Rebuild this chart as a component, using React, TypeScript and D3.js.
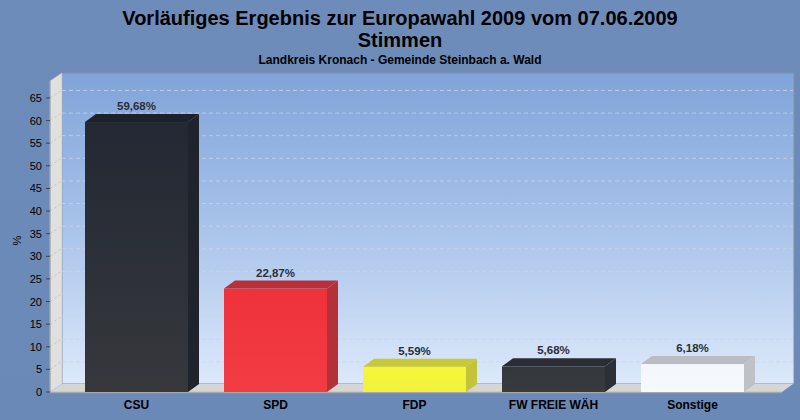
import React from 'react'
import * as d3 from 'd3'

const categories = ['CSU', 'SPD', 'FDP', 'FW FREIE WÄH', 'Sonstige']
const shares = [59.68, 22.87, 5.59, 5.68, 6.18]
const yTicks = [0, 5, 10, 15, 20, 25, 30, 35, 40, 45, 50, 55, 60, 65]

// front / top / side colours per party
const palette = [
  { front: ['#232833', '#36383c'], top: '#1c212a', side: '#1f232b' },
  { front: ['#ef313a', '#f23c44'], top: '#b8313a', side: '#b3323a' },
  { front: ['#f5f538', '#f2f23e'], top: '#c9c936', side: '#c4c43a' },
  { front: ['#34373d', '#383a3e'], top: '#2a2d33', side: '#2c2f35' },
  { front: ['#f3f6fb', '#f6f9fd'], top: '#babdc3', side: '#bec1c6' },
]

const W = 800
const H = 420
const DX = 11
const DY = 8
const FONT = '"Liberation Sans", Arial, sans-serif'

const fmt = d3.formatLocale({ decimal: ',', thousands: '.', grouping: [3], currency: ['', '€'] }).format('.2f')

const App: React.FC = () => {
  const x = d3.scaleBand<string>()
    .domain(categories)
    .range([67, 762])
    .paddingInner(0.259)
    .paddingOuter(0.1295)

  const y = d3.scaleLinear().domain([0, 68.75]).range([392, 81])

  const x0 = 50
  const x1 = 782
  const y0 = y(0)
  const yTop = y(68.75)

  return (
    <svg width={W} height={H} style={{ position: 'absolute', left: 0, top: 0, fontFamily: FONT }}>
      <defs>
        <linearGradient id="bg" x1="0" y1="0" x2="0" y2="1">
          <stop offset="0" stopColor="#6e8cb9" />
          <stop offset="1" stopColor="#6a89b7" />
        </linearGradient>
        <linearGradient id="wall" x1="0" y1="0" x2="0" y2="1">
          <stop offset="0" stopColor="#80a4d8" />
          <stop offset="0.5" stopColor="#a9c3ea" />
          <stop offset="1" stopColor="#dce9fb" />
        </linearGradient>
        {palette.map((p, i) => (
          <linearGradient key={i} id={`front${i}`} x1="0" y1="0" x2="0" y2="1">
            <stop offset="0" stopColor={p.front[0]} />
            <stop offset="1" stopColor={p.front[1]} />
          </linearGradient>
        ))}
      </defs>

      <rect width={W} height={H} fill="url(#bg)" />

      {/* titles */}
      <text x={400} y={25} textAnchor="middle" fontSize={20} fontWeight="bold" fill="#000">
        Vorläufiges Ergebnis zur Europawahl 2009 vom 07.06.2009
      </text>
      <text x={400} y={47} textAnchor="middle" fontSize={20} fontWeight="bold" fill="#000">
        Stimmen
      </text>
      <text x={400} y={64} textAnchor="middle" fontSize={12} fontWeight="bold" fill="#000">
        Landkreis Kronach - Gemeinde Steinbach a. Wald
      </text>

      {/* back wall */}
      <rect x={x0 + DX + 1} y={yTop - DY} width={x1 - x0} height={y0 - yTop}
        fill="url(#wall)" stroke="#7f8fa6" strokeWidth={1} />
      {/* left wall */}
      <polygon
        points={`${x0},${yTop} ${x0 + DX + 1},${yTop - DY} ${x0 + DX + 1},${y0 - DY} ${x0},${y0}`}
        fill="#e0e0e0" stroke="#c4c4c4" strokeWidth={0.6} />
      {/* floor */}
      <polygon
        points={`${x0},${y0} ${x0 + DX + 1},${y0 - DY} ${x1 + DX},${y0 - DY} ${x1},${y0}`}
        fill="#d6d6d6" />
      <line x1={x0} x2={x1} y1={y0 + 0.5} y2={y0 + 0.5} stroke="#a8a8a8" strokeWidth={1.5} />

      {/* grid */}
      {yTicks.filter(t => t > 0).map(t => (
        <g key={t}>
          <line x1={x0 + DX + 1} x2={x1 + DX} y1={y(t) - DY + 0.5} y2={y(t) - DY + 0.5}
            stroke="#cbd6e8" strokeWidth={1} strokeDasharray="4 3" opacity={0.75} />
          <line x1={x0} x2={x0 + DX + 1} y1={y(t)} y2={y(t) - DY}
            stroke="#c8c8c8" strokeWidth={1} strokeDasharray="3 2" />
        </g>
      ))}

      {/* axis */}
      <line x1={x0} x2={x0} y1={yTop} y2={y0} stroke="#9a9a9a" strokeWidth={1} />
      {yTicks.map(t => (
        <g key={t}>
          <line x1={x0 - 4} x2={x0} y1={y(t)} y2={y(t)} stroke="#444" strokeWidth={1} />
          <text x={42} y={y(t) + 4} textAnchor="end" fontSize={11} fill="#000">{t}</text>
        </g>
      ))}
      <text transform={`translate(21,${(yTop + y0) / 2 + 4}) rotate(-90)`} textAnchor="middle"
        fontSize={11} fill="#000">%</text>

      {/* bars */}
      {categories.map((c, i) => {
        const bx = x(c)!
        const bw = x.bandwidth()
        const by = y(shares[i])
        const p = palette[i]
        return (
          <g key={c}>
            <rect x={bx} y={by} width={bw} height={y0 - by} fill={`url(#front${i})`} />
            <polygon
              points={`${bx},${by} ${bx + DX},${by - DY} ${bx + bw + DX},${by - DY} ${bx + bw},${by}`}
              fill={p.top} />
            <polygon
              points={`${bx + bw},${by} ${bx + bw + DX},${by - DY} ${bx + bw + DX},${y0 - DY} ${bx + bw},${y0}`}
              fill={p.side} />
            <text x={bx + bw / 2} y={by - DY - 4} textAnchor="middle" fontSize={11.5}
              fontWeight="bold" fill="#2b2f38">{fmt(shares[i])}%</text>
            <text x={bx + bw / 2} y={409} textAnchor="middle" fontSize={12}
              fontWeight="bold" fill="#000">{c}</text>
          </g>
        )
      })}
    </svg>
  )
}

export default App
